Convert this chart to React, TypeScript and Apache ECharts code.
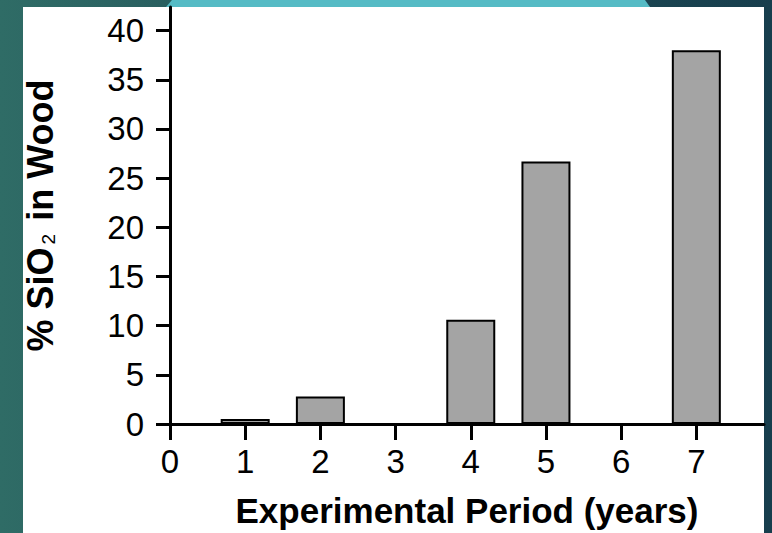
import React, { useEffect, useRef } from "react";
import * as echarts from "echarts";

const periods = [1, 2, 4, 5, 7];
const silicaPct = [0.5, 2.8, 10.6, 26.7, 38.0];
const yTicks = [0, 5, 10, 15, 20, 25, 30, 35, 40];
const xTicks = [0, 1, 2, 3, 4, 5, 6, 7];
const xTitle = "Experimental Period (years)";
const yTitle = "% SiO{sub|2} in Wood";

const FONT = "'Liberation Sans', Arial, Helvetica, sans-serif";

export default function App() {
  const ref = useRef<HTMLDivElement>(null);
  useEffect(() => {
    if (!ref.current) return;
    const chart = echarts.init(ref.current, undefined, { renderer: "svg" });
    chart.setOption({
      animation: false,
      backgroundColor: "transparent",
      graphic: [
        {
          type: "rect",
          z: -10,
          silent: true,
          shape: { x: 23, y: 7, width: 741, height: 526 },
          style: { fill: "#ffffff" },
        },
        {
          type: "polygon",
          z: -10,
          silent: true,
          shape: { points: [[172, 0], [645, 0], [650, 7], [166, 7]] },
          style: { fill: "#55bbc5" },
        },
      ],
      grid: { left: 170, right: 8, top: 7, bottom: 107, containLabel: false },
      xAxis: {
        type: "value",
        min: 0,
        max: 7.9,
        splitLine: { show: false },
        axisLine: { show: true, onZero: false, lineStyle: { color: "#000", width: 3 } },
        axisTick: { show: true, length: 16, lineStyle: { color: "#000", width: 3 }, customValues: xTicks },
        axisLabel: {
          customValues: xTicks,
          color: "#000",
          fontSize: 33,
          fontFamily: FONT,
          margin: 21,
        },
        name: xTitle,
        nameLocation: "middle",
        nameGap: 69,
        nameTextStyle: { color: "#000", fontSize: 35, fontWeight: "bold", fontFamily: FONT },
      },
      yAxis: {
        type: "value",
        min: 0,
        max: 42.4,
        splitLine: { show: false },
        axisLine: { show: true, onZero: false, lineStyle: { color: "#000", width: 3 } },
        axisTick: { show: true, length: 14, lineStyle: { color: "#000", width: 3 }, customValues: yTicks },
        axisLabel: {
          customValues: yTicks,
          color: "#000",
          fontSize: 33,
          fontFamily: FONT,
          margin: 26,
        },
        name: yTitle,
        nameLocation: "middle",
        nameRotate: 90,
        nameGap: 112,
        nameTextStyle: {
          color: "#000",
          fontSize: 36,
          fontWeight: "bold",
          fontFamily: FONT,
          lineHeight: 36,
          rich: {
            sub: {
              fontSize: 19,
              fontWeight: "normal",
              fontFamily: FONT,
              color: "#000",
              verticalAlign: "bottom",
              lineHeight: 36,
              padding: [0, 3, 0, 3],
            },
          },
        },
      },
      series: [
        {
          type: "bar",
          data: periods.map((p, i) => [p, silicaPct[i]]),
          barWidth: 49,
          itemStyle: { color: "#a4a4a4", borderColor: "#000", borderWidth: 2 },
          z: 1,
        },
      ],
    });
    return () => chart.dispose();
  }, []);
  return (
    <div
      style={{
        position: "absolute",
        left: 0,
        top: 0,
        width: 772,
        height: 533,
        background: "linear-gradient(90deg, #2f6c66 0%, #25575c 35%, #173e4d 100%)",
      }}
    >
      <div ref={ref} style={{ width: 772, height: 533 }} />
    </div>
  );
}
